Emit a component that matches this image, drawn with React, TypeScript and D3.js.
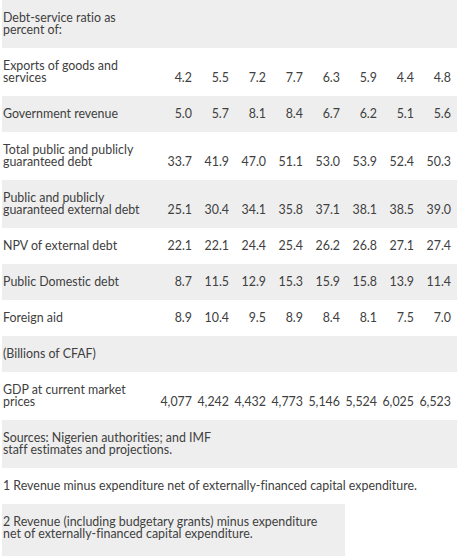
import React from "react";
import * as d3 from "d3";

const years = ["2010", "2011", "2012", "2013", "2014", "2015", "2016", "2017"];

const headerLabel = ["Debt-service ratio as", "percent of:"];

const rowLabels: string[][] = [
  ["Exports of goods and", "services"],
  ["Government revenue"],
  ["Total public and publicly", "guaranteed debt"],
  ["Public and publicly", "guaranteed external debt"],
  ["NPV of external debt"],
  ["Public Domestic debt"],
  ["Foreign aid"],
];

const exportsRatio = [4.2, 5.5, 7.2, 7.7, 6.3, 5.9, 4.4, 4.8];
const revenueRatio = [5.0, 5.7, 8.1, 8.4, 6.7, 6.2, 5.1, 5.6];
const totalDebt = [33.7, 41.9, 47.0, 51.1, 53.0, 53.9, 52.4, 50.3];
const externalDebt = [25.1, 30.4, 34.1, 35.8, 37.1, 38.1, 38.5, 39.0];
const npvExternalDebt = [22.1, 22.1, 24.4, 25.4, 26.2, 26.8, 27.1, 27.4];
const domesticDebt = [8.7, 11.5, 12.9, 15.3, 15.9, 15.8, 13.9, 11.4];
const foreignAid = [8.9, 10.4, 9.5, 8.9, 8.4, 8.1, 7.5, 7.0];

const unitsLabel = ["(Billions of CFAF)"];
const gdpLabel = ["GDP at current market", "prices"];
const gdp = [4077, 4242, 4432, 4773, 5146, 5524, 6025, 6523];

const sourcesLabel = ["Sources: Nigerien authorities; and IMF", "staff estimates and projections."];
const footnote1 = ["1 Revenue minus expenditure net of externally-financed capital expenditure."];
const footnote2 = ["2 Revenue (including budgetary grants) minus expenditure", "net of externally-financed capital expenditure."];

type Row = { label: string[]; values?: number[]; fmt?: (n: number) => string };

const W = 459;
const H = 556;
const LINE = 12;
const PAD = 12;
const GRAY = "#eeeeee";
const TEXT = "#404040";
const FONT = "Lato, 'Open Sans', sans-serif";

export default function App() {
  const f1 = d3.format(".1f");
  const fc = d3.format(",");
  const dataSeries = [exportsRatio, revenueRatio, totalDebt, externalDebt, npvExternalDebt, domesticDebt, foreignAid];
  const rows: Row[] = [
    { label: headerLabel },
    ...rowLabels.map((l, i) => ({ label: l, values: dataSeries[i], fmt: f1 })),
    { label: unitsLabel },
    { label: gdpLabel, values: gdp, fmt: fc },
    { label: sourcesLabel },
    { label: footnote1 },
  ];

  const x = d3.scalePoint<string>().domain(years).range([192, 451]);

  let y = 0;
  const laid = rows.map((r, i) => {
    const h = PAD * 2 + LINE * r.label.length;
    const o = { ...r, top: y, h, gray: i % 2 === 0 };
    y += h;
    return o;
  });
  const fn2Top = y;

  return (
    <svg width={W} height={H} style={{ position: "absolute", left: 0, top: 0, background: "#fff", fontVariantLigatures: "none" }}
      fontFamily={FONT} fontSize={12.4} fill={TEXT}>
      {laid.map((r, i) => (
        <g key={i}>
          {r.gray && <rect x={2} y={r.top} width={455} height={r.h} fill={GRAY} />}
          {r.label.map((t, j) => (
            <text key={j} x={3} y={r.top + PAD + 9.5 + j * LINE}>{t}</text>
          ))}
          {r.values && r.values.map((v, k) => (
            <text key={"v" + k} x={x(years[k])} textAnchor="end"
              y={r.top + PAD + 9.5 + (r.label.length - 1) * LINE}>{r.fmt!(v)}</text>
          ))}
        </g>
      ))}
      <rect x={2} y={fn2Top} width={343} height={H - fn2Top} fill={GRAY} />
      {footnote2.map((t, j) => (
        <text key={j} x={3} y={fn2Top + PAD + 9.5 + j * LINE}>{t}</text>
      ))}
    </svg>
  );
}
